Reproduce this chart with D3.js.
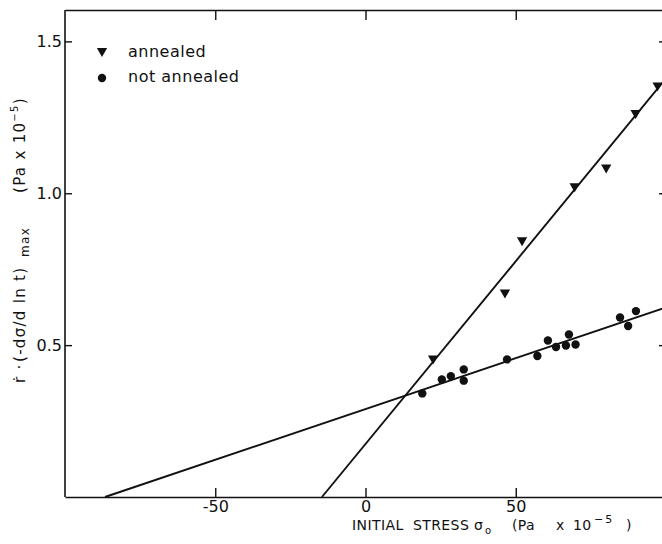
<!DOCTYPE html>
<html>
<head>
<meta charset="utf-8">
<script src="https://cdn.jsdelivr.net/npm/d3@7"></script>
<style>
  body { margin: 0; background: #fff; }
  text { font-family: "DejaVu Sans", sans-serif; fill: #111; }
</style>
</head>
<body>
<div id="chart"></div>
<script>
const W = 662, H = 544;

// annealed samples: initial stress (Pa x 10^-5), rate (Pa x 10^-5)
const annealedX = [22.5, 46.4, 52.1, 69.6, 80.1, 89.9, 97.2];
const annealedY = [0.456, 0.673, 0.845, 1.023, 1.085, 1.264, 1.355];

// not annealed samples
const notAnnealedX = [18.9, 25.4, 28.4, 32.7, 32.7, 47.1, 57.2, 60.7, 63.4, 66.7, 67.7, 69.9, 84.7, 87.4, 90.0];
const notAnnealedY = [0.341, 0.387, 0.398, 0.420, 0.383, 0.453, 0.464, 0.515, 0.494, 0.499, 0.535, 0.502, 0.591, 0.563, 0.612];

// fitted straight lines, given as end points [x, y]
const annealedFit = [[-14.5, 0], [100, 1.378]];
const notAnnealedFit = [[-86.7, 0], [100, 0.624]];

const xTicks = [-50, 0, 50];
const yTicks = [0.5, 1.0, 1.5];

const x = d3.scaleLinear().domain([-100, 100]).range([65, 666]);
const y = d3.scaleLinear().domain([0, 1.6]).range([497, 11]);

const svg = d3.select("#chart").append("svg")
  .attr("width", W)
  .attr("height", H);

// axes (ticks drawn inward on all four sides)
const styleAxis = (g) => {
  g.selectAll("path.domain").attr("stroke", "#111").attr("stroke-width", 1.6);
  g.selectAll(".tick line").attr("stroke", "#111").attr("stroke-width", 1.4);
  g.selectAll(".tick text")
    .style("font-family", "DejaVu Sans, sans-serif")
    .style("font-size", "16px")
    .attr("fill", "#111");
};

svg.append("g")
  .attr("transform", `translate(0,${y(0)})`)
  .call(d3.axisBottom(x).tickValues(xTicks).tickSizeInner(-9).tickSizeOuter(0)
    .tickPadding(4).tickFormat((d) => String(d)))
  .call(styleAxis);

svg.append("g")
  .attr("transform", `translate(0,${y(1.6) - 1})`)
  .call(d3.axisTop(x).tickValues(xTicks).tickSizeInner(-10).tickSizeOuter(0).tickFormat(""))
  .call(styleAxis);

svg.append("g")
  .attr("transform", `translate(${x(-100)},0)`)
  .call(d3.axisLeft(y).tickValues(yTicks).tickSizeInner(-7).tickSizeOuter(0)
    .tickPadding(3).tickFormat(d3.format(".1f")))
  .call(styleAxis)
  .select("path.domain").attr("d", `M0,${y(1.6) - 1}V${y(0)}`);

svg.append("g")
  .attr("transform", `translate(${x(100)},0)`)
  .call(d3.axisRight(y).tickValues(yTicks).tickSizeInner(-7).tickSizeOuter(0).tickFormat(""))
  .call(styleAxis);

// fit lines
const line = d3.line().x((d) => x(d[0])).y((d) => y(d[1]));
[annealedFit, notAnnealedFit].forEach((pts) => {
  svg.append("path")
    .attr("d", line(pts))
    .attr("fill", "none")
    .attr("stroke", "#111")
    .attr("stroke-width", 1.9);
});

// points
const tri = d3.symbol().type(d3.symbolTriangle).size(46);

svg.append("g").selectAll("path")
  .data(d3.zip(annealedX, annealedY))
  .join("path")
  .attr("d", tri)
  .attr("transform", (d) => `translate(${x(d[0])},${y(d[1])}) rotate(180)`)
  .attr("fill", "#111");

svg.append("g").selectAll("circle")
  .data(d3.zip(notAnnealedX, notAnnealedY))
  .join("circle")
  .attr("cx", (d) => x(d[0]))
  .attr("cy", (d) => y(d[1]))
  .attr("r", 4.2)
  .attr("fill", "#111");

// legend
const legend = svg.append("g");
legend.append("path")
  .attr("d", tri)
  .attr("transform", "translate(102,51) rotate(180)")
  .attr("fill", "#111");
legend.append("text")
  .attr("x", 128).attr("y", 57)
  .style("font-size", "16px")
  .style("letter-spacing", "0.5px")
  .text("annealed");
legend.append("circle")
  .attr("cx", 102).attr("cy", 78).attr("r", 4.2)
  .attr("fill", "#111");
legend.append("text")
  .attr("x", 128).attr("y", 82)
  .style("font-size", "16px")
  .style("letter-spacing", "0.5px")
  .text("not annealed");

// x axis title, laid out in pieces like the original lettering
const xTitle = [
  { t: "INITIAL", x: 352 },
  { t: "STRESS", x: 413 },
  { t: "σ", x: 474 },
  { t: "(Pa", x: 512 },
  { t: "x", x: 556 },
  { t: "10", x: 573 },
  { t: ")", x: 626 }
];
svg.append("g").selectAll("text")
  .data(xTitle)
  .join("text")
  .attr("x", (d) => d.x)
  .attr("y", 530)
  .style("font-size", "14px")
  .style("letter-spacing", "0.4px")
  .text((d) => d.t);
svg.append("text").attr("x", 485).attr("y", 534).style("font-size", "10px").text("o");
svg.append("text").attr("x", 594).attr("y", 523)
  .style("font-size", "11px").style("letter-spacing", "2px").text("−5");

// y axis title, rotated
const yt = svg.append("g")
  .attr("transform", "translate(25,0) rotate(-90)")
  .append("text")
  .style("font-size", "15px")
  .style("letter-spacing", "1.3px");
yt.append("tspan").attr("x", -383).text("ṙ ·");
yt.append("tspan").attr("x", -362).text("(-dσ/d ln t)");
yt.append("tspan").attr("x", -257).attr("dy", 4).style("font-size", "12px").text("max");
yt.append("tspan").attr("x", -193).attr("dy", -4).text("(Pa x 10");
yt.append("tspan").attr("dy", -7).style("font-size", "10px").text("−5");
yt.append("tspan").attr("dy", 7).text(")");
</script>
</body>
</html>
